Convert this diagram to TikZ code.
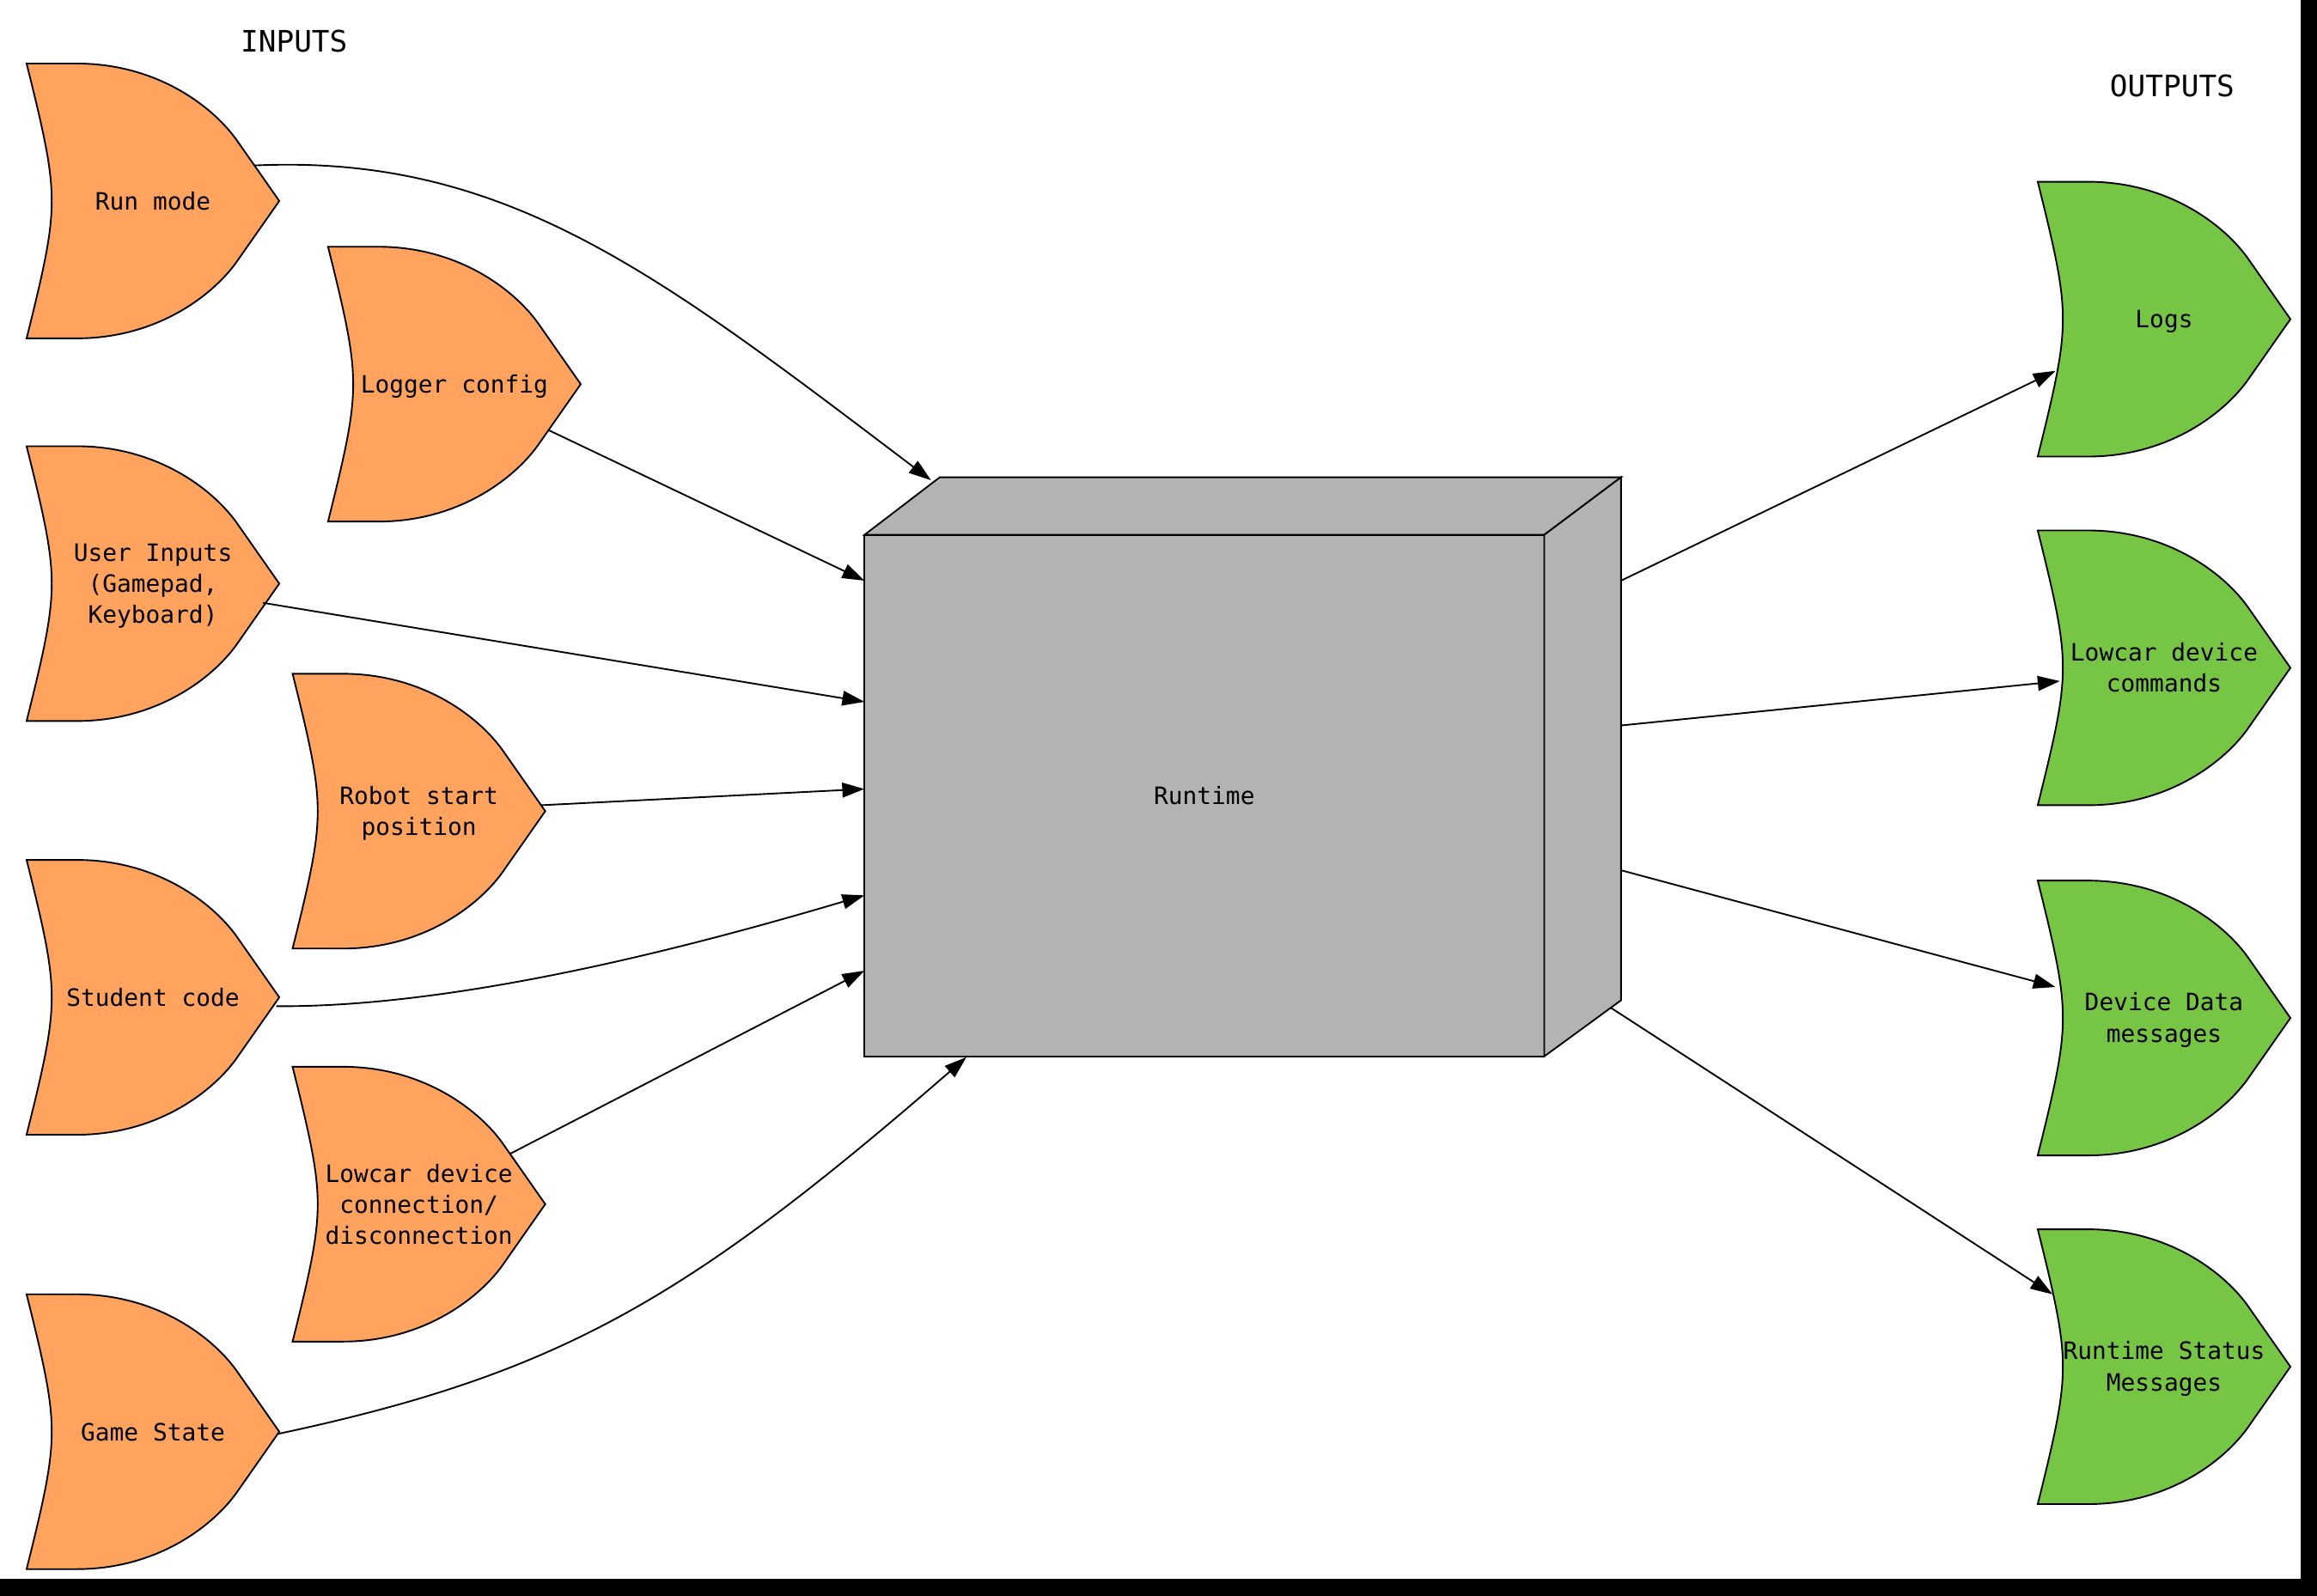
\documentclass[tikz,border=0pt]{standalone}
\usepackage{fontspec}
\newfontfamily\monof{DejaVu Sans Mono}
\usetikzlibrary{arrows.meta,calc}
\definecolor{inorange}{RGB}{255,163,94}
\definecolor{outgreen}{RGB}{119,197,69}
\definecolor{boxgray}{RGB}{179,179,179}
\newcommand\ls{\rule[-3pt]{0pt}{18pt}}
\tikzset{
  outline/.style={draw=black, line width=1.1pt, line join=miter},
  lbl/.style={font=\monof\fontsize{16.2}{21}\selectfont, align=center, inner sep=0pt},
  title/.style={font=\monof\fontsize{20}{24}\selectfont, inner sep=0pt},
  conn/.style={draw=black, line width=1.1pt, -{Triangle[length=15pt,width=10pt]}},
}
\newcommand\gateshape[3]{%
  \path[outline, fill=#3, shift={(#1,#2)}] (0,-93) -- (34,-93)
    .. controls (90,-93) and (128,-62) .. (143,-40) -- (171,0) -- (143,40)
    .. controls (128,62) and (90,93) .. (34,93) -- (0,93)
    .. controls (12,45) and (17,22) .. (17,0)
    .. controls (17,-22) and (12,-45) .. (0,-93) -- cycle;}
\begin{document}
\begin{tikzpicture}[x=1pt,y=-1pt]
\fill[white] (0,0) rectangle (1568,1080);
\useasboundingbox (0,0) rectangle (1568,1080);
% input shapes
\gateshape{18}{136}{inorange}
\gateshape{222}{260}{inorange}
\gateshape{18}{395}{inorange}
\gateshape{198}{549}{inorange}
\gateshape{18}{675}{inorange}
\gateshape{198}{815}{inorange}
\gateshape{18}{969}{inorange}
% output shapes
\gateshape{1379}{216}{outgreen}
\gateshape{1379}{452}{outgreen}
\gateshape{1379}{689}{outgreen}
\gateshape{1379}{925}{outgreen}
% titles
\node[title] (inputs) at (199,28) {INPUTS};
\node[title] (outputs) at (1470,58) {OUTPUTS};
% labels
\node[lbl] (run) at (103.5,136) {Run mode\ls};
\node[lbl] (logger) at (307.5,260) {Logger config\ls};
\node[lbl] (user) at (103.5,395) {User Inputs\ls\\(Gamepad,\ls\\Keyboard)\ls};
\node[lbl] (robot) at (283.5,549) {Robot start\ls\\position\ls};
\node[lbl] (student) at (103.5,675) {Student code\ls};
\node[lbl] (lowdev) at (283.5,815) {Lowcar device\ls\\connection/\ls\\disconnection\ls};
\node[lbl] (game) at (103.5,969) {Game State\ls};
\node[lbl] (logs) at (1464.5,216) {Logs\ls};
\node[lbl] (cmds) at (1464.5,452) {Lowcar device\ls\\commands\ls};
\node[lbl] (data) at (1464.5,689) {Device Data\ls\\messages\ls};
\node[lbl] (status) at (1464.5,925) {Runtime Status\ls\\Messages\ls};
% runtime box
\node[lbl, outline, fill=boxgray, outer sep=0pt, minimum width=460pt, minimum height=353pt] (rt) at (815,538.5) {Runtime\ls};
\draw[outline, fill=boxgray] (rt.north west) -- ++(51,-39) -- ($(rt.north east)+(52,-39)$) -- (rt.north east) -- cycle;
\draw[outline, fill=boxgray] (rt.north east) -- ++(52,-39) -- ($(rt.south east)+(52,-38)$) -- (rt.south east) -- cycle;
% input connectors
\draw[conn] ($(run.center)+(68.5,-24)$) .. controls ($(run.center)+(238.5,-32)$) and ($(rt.north west)+(-140,-177)$) .. ($(rt.north west)+(45,-37)$);
\draw[conn] ($(logger.center)+(63.5,31)$) -- ($(rt.north west)+(0,31)$);
\draw[conn] ($(user.center)+(74.5,13)$) -- ($(rt.north west)+(0,113)$);
\draw[conn] ($(robot.center)+(82.5,-4)$) -- ($(rt.north west)+(0,172)$);
\draw[conn] ($(student.center)+(83.5,6)$) .. controls ($(student.center)+(216.5,7)$) and ($(rt.north west)+(-95,272)$) .. ($(rt.north west)+(0,244)$);
\draw[conn] ($(lowdev.center)+(61.5,-34)$) -- ($(rt.north west)+(0,295)$);
\draw[conn] ($(game.center)+(84.5,1.5)$) .. controls ($(game.center)+(274.5,-39)$) and ($(rt.south west)+(-121,165.5)$) .. ($(rt.south west)+(69,0.5)$);
% output connectors
\draw[conn] ($(rt.north east)+(52,31)$) -- ($(logs.center)+(-73.5,35)$);
\draw[conn] ($(rt.north east)+(52,129)$) -- ($(cmds.center)+(-70.5,9)$);
\draw[conn] ($(rt.north east)+(52,227)$) -- ($(data.center)+(-73.5,-21)$);
\draw[conn] ($(rt.north east)+(45,320)$) -- ($(status.center)+(-75.5,-49)$);
% black frame strips
\fill[black] (1557,0) rectangle (1568,1080);
\fill[black] (0,1068.8) rectangle (1568,1080);
\end{tikzpicture}
\end{document}
